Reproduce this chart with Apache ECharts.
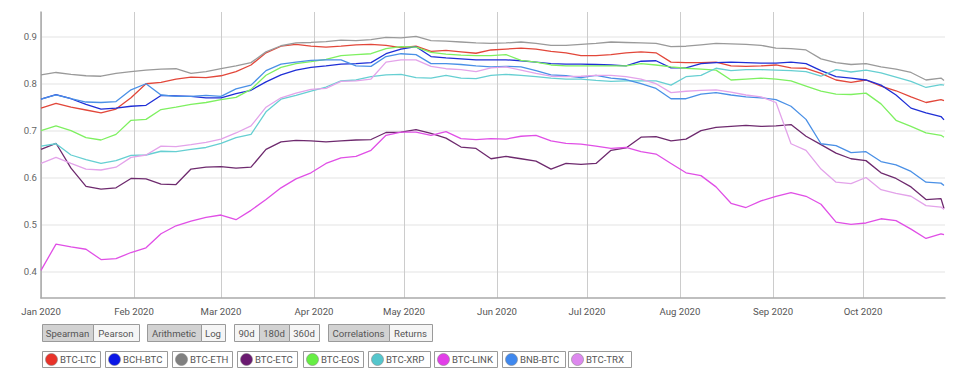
<!DOCTYPE html>
<html>
<head>
<meta charset="utf-8">
<script src="https://cdn.jsdelivr.net/npm/echarts@6/dist/echarts.min.js"></script>
<style>
html,body{margin:0;padding:0;background:#fff;}
#chart{width:975px;height:385px;}
</style>
</head>
<body>
<div id="chart"></div>
<script>
// ---- data ----
const dates = ['2020-01-01','2020-01-06','2020-01-11','2020-01-16','2020-01-21','2020-01-26','2020-01-31',
'2020-02-05','2020-02-10','2020-02-15','2020-02-20','2020-02-25','2020-03-01','2020-03-06','2020-03-11',
'2020-03-16','2020-03-21','2020-03-26','2020-03-31','2020-04-05','2020-04-10','2020-04-15','2020-04-20',
'2020-04-25','2020-04-30','2020-05-05','2020-05-10','2020-05-15','2020-05-20','2020-05-25','2020-05-30',
'2020-06-04','2020-06-09','2020-06-14','2020-06-19','2020-06-24','2020-06-29','2020-07-04','2020-07-09',
'2020-07-14','2020-07-19','2020-07-24','2020-07-29','2020-08-03','2020-08-08','2020-08-13','2020-08-18',
'2020-08-23','2020-08-28','2020-09-02','2020-09-07','2020-09-12','2020-09-17','2020-09-22','2020-09-27',
'2020-10-02','2020-10-07','2020-10-12','2020-10-17','2020-10-22','2020-10-27','2020-10-28'];

const btcLtc = [0.748,0.758,0.750,0.744,0.738,0.746,0.770,0.800,0.803,0.810,
0.814,0.813,0.817,0.826,0.840,0.866,0.880,0.884,0.880,0.878,
0.880,0.883,0.884,0.882,0.877,0.880,0.869,0.871,0.868,0.865,
0.872,0.874,0.876,0.874,0.869,0.866,0.860,0.860,0.862,0.866,
0.868,0.866,0.846,0.845,0.845,0.846,0.838,0.837,0.838,0.840,
0.834,0.833,0.822,0.808,0.803,0.808,0.795,0.785,0.772,0.760,
0.766,0.764];
const bchBtc = [0.767,0.777,0.768,0.756,0.746,0.748,0.752,0.754,0.775,0.774,
0.773,0.770,0.770,0.779,0.786,0.804,0.819,0.829,0.835,0.838,
0.842,0.843,0.845,0.864,0.874,0.879,0.858,0.855,0.853,0.851,
0.851,0.851,0.849,0.846,0.843,0.842,0.842,0.841,0.840,0.838,
0.848,0.849,0.834,0.834,0.843,0.845,0.846,0.845,0.844,0.844,
0.846,0.843,0.828,0.815,0.812,0.808,0.797,0.776,0.748,0.738,
0.730,0.723];
const btcEth = [0.819,0.824,0.820,0.817,0.816,0.822,0.826,0.829,0.831,0.832,
0.822,0.826,0.832,0.838,0.845,0.868,0.881,0.887,0.888,0.890,
0.893,0.892,0.894,0.899,0.898,0.901,0.892,0.891,0.889,0.887,
0.886,0.887,0.889,0.886,0.882,0.882,0.884,0.886,0.889,0.888,
0.887,0.886,0.879,0.880,0.883,0.886,0.885,0.884,0.882,0.876,
0.875,0.872,0.853,0.845,0.841,0.843,0.836,0.831,0.824,0.808,
0.812,0.807];
const btcEtc = [0.660,0.673,0.620,0.581,0.575,0.578,0.598,0.597,0.586,0.585,
0.618,0.622,0.623,0.620,0.622,0.660,0.676,0.679,0.678,0.676,
0.678,0.680,0.681,0.696,0.697,0.702,0.694,0.684,0.665,0.662,
0.640,0.645,0.640,0.635,0.618,0.630,0.628,0.630,0.658,0.663,
0.686,0.687,0.678,0.682,0.700,0.707,0.709,0.711,0.709,0.710,
0.713,0.688,0.670,0.652,0.640,0.636,0.610,0.598,0.580,0.553,
0.555,0.534];
const btcEos = [0.700,0.710,0.700,0.685,0.680,0.692,0.722,0.724,0.745,0.750,
0.756,0.760,0.766,0.771,0.788,0.818,0.835,0.843,0.847,0.852,
0.860,0.862,0.864,0.875,0.879,0.878,0.867,0.863,0.861,0.860,
0.860,0.862,0.850,0.846,0.840,0.838,0.838,0.838,0.838,0.838,
0.843,0.840,0.836,0.833,0.831,0.829,0.808,0.810,0.812,0.810,
0.806,0.795,0.784,0.778,0.777,0.780,0.757,0.722,0.709,0.695,
0.690,0.686];
const btcXrp = [0.667,0.672,0.648,0.638,0.630,0.636,0.647,0.648,0.656,0.655,
0.660,0.664,0.673,0.685,0.692,0.740,0.767,0.775,0.784,0.793,
0.806,0.808,0.815,0.819,0.820,0.813,0.812,0.818,0.812,0.811,
0.818,0.820,0.818,0.815,0.812,0.810,0.810,0.807,0.805,0.806,
0.806,0.806,0.797,0.815,0.818,0.833,0.828,0.830,0.830,0.829,
0.828,0.826,0.816,0.830,0.825,0.829,0.823,0.814,0.805,0.792,
0.798,0.797];
const btcLink = [0.402,0.458,0.452,0.447,0.425,0.427,0.440,0.450,0.480,0.497,
0.507,0.515,0.520,0.510,0.530,0.553,0.578,0.597,0.610,0.630,
0.642,0.645,0.658,0.690,0.697,0.697,0.690,0.698,0.683,0.681,
0.683,0.682,0.688,0.690,0.678,0.673,0.671,0.667,0.662,0.664,
0.655,0.650,0.630,0.610,0.604,0.580,0.545,0.536,0.550,0.560,
0.568,0.560,0.543,0.505,0.500,0.503,0.512,0.508,0.490,0.470,
0.480,0.478];
const bnbBtc = [0.767,0.776,0.768,0.761,0.760,0.762,0.787,0.800,0.776,0.773,
0.773,0.775,0.773,0.789,0.797,0.828,0.842,0.846,0.850,0.851,
0.851,0.838,0.837,0.858,0.864,0.862,0.843,0.843,0.841,0.838,
0.836,0.837,0.836,0.828,0.819,0.817,0.813,0.818,0.812,0.809,
0.800,0.790,0.768,0.768,0.778,0.781,0.776,0.772,0.770,0.766,
0.752,0.724,0.672,0.668,0.653,0.655,0.634,0.627,0.613,0.590,
0.588,0.583];
const btcTrx = [0.630,0.643,0.630,0.618,0.616,0.622,0.643,0.648,0.667,0.666,
0.670,0.675,0.682,0.695,0.710,0.750,0.770,0.780,0.788,0.790,
0.805,0.806,0.810,0.846,0.851,0.851,0.837,0.832,0.830,0.826,
0.834,0.836,0.829,0.822,0.816,0.815,0.816,0.818,0.818,0.815,
0.810,0.800,0.781,0.784,0.786,0.787,0.782,0.776,0.772,0.760,
0.672,0.658,0.618,0.590,0.587,0.600,0.574,0.566,0.560,0.540,
0.537,0.532];

const seriesNames = ['BTC-LTC','BCH-BTC','BTC-ETH','BTC-ETC','BTC-EOS','BTC-XRP','BTC-LINK','BNB-BTC','BTC-TRX'];
const seriesValues = [btcLtc,bchBtc,btcEth,btcEtc,btcEos,btcXrp,btcLink,bnbBtc,btcTrx];
const monthTicks = ['2020-01-01','2020-02-01','2020-03-01','2020-04-01','2020-05-01','2020-06-01',
'2020-07-01','2020-08-01','2020-09-01','2020-10-01'];
const monthNames = ['Jan','Feb','Mar','Apr','May','Jun','Jul','Aug','Sep','Oct','Nov','Dec'];
const yTicks = [0.4,0.5,0.6,0.7,0.8,0.9];
const buttonGroups = [
  [['Spearman',true],['Pearson',false]],
  [['Arithmetic',true],['Log',false]],
  [['90d',false],['180d',true],['360d',false]],
  [['Correlations',true],['Returns',false]]
];

// ---- styles ----
const lineColors = ['#e2473a','#1f2fd6','#9a9a9a','#6e2a6e','#7ef060','#66cfd2','#e04fe6','#4a90e6','#e3a3ea'];
const dotColors  = ['#e8332a','#0a16e6','#808080','#6a1a70','#66ee44','#55c6cc','#e23ee8','#3f88ee','#dd88ee'];
const FONT = 'Roboto';
const TXT = 9.6;

const ts = (s)=>Date.parse(s.length>10 ? s : s+'T00:00:00Z');
const dateTs = dates.map(ts);
const monthTs = monthTicks.map(ts);

const chart = echarts.init(document.getElementById('chart'), null, {renderer:'svg'});

const series = seriesNames.map((n,i)=>({
  name:n, type:'line', showSymbol:false, symbol:'none',
  data: dateTs.map((d,j)=>[d, seriesValues[i][j]]),
  lineStyle:{width:1.3, color:lineColors[i]},
  itemStyle:{color:lineColors[i]},
  emphasis:{disabled:true},
  z: 3
}));

// graphic: button rows
const graphics = [];
const btnX = [[42,93,139],[147,201,225],[234,259,289,319],[328,389,432]];
buttonGroups.forEach((g,gi)=>{
  g.forEach((b,bi)=>{
    const x0 = btnX[gi][bi], x1 = btnX[gi][bi+1];
    graphics.push({type:'rect', shape:{x:x0+0.5,y:324.5,width:x1-x0,height:17},
      style:{fill:b[1]?'#d2d2d2':'#f5f5f5', stroke:'#9a9a9a', lineWidth:1}, silent:true});
    graphics.push({type:'text', x:(x0+x1)/2, y:333.5,
      style:{text:b[0], fontSize:TXT, fontFamily:FONT, fill:'#555', align:'center', verticalAlign:'middle'}, silent:true});
  });
});
const legX = [[42,100],[105,167],[172,232],[237,297],[303,363],[368,430],[434,497],[502,565],[568,631]];
seriesNames.forEach((n,i)=>{
  const [x0,x1] = legX[i];
  graphics.push({type:'rect', shape:{x:x0+0.5,y:351.5,width:x1-x0,height:16},
    style:{fill:'#fff', stroke:'#9a9a9a', lineWidth:1}, silent:true});
  graphics.push({type:'circle', shape:{cx:x0+9.5,cy:359.5,r:6},
    style:{fill:dotColors[i], stroke:'#888', lineWidth:0.6}, silent:true});
  graphics.push({type:'text', x:x0+18, y:359.5,
    style:{text:n, fontSize:TXT, fontFamily:FONT, fill:'#555', align:'left', verticalAlign:'middle'}, silent:true});
});

chart.setOption({
  animation:false,
  backgroundColor:'#fff',
  textStyle:{fontFamily:FONT},
  grid:{left:41, right:30, top:12, bottom:87, containLabel:false},
  xAxis:{
    type:'value',
    min: ts('2020-01-01'), max: ts('2020-10-28T08:00:00Z'),
    axisLine:{show:true, onZero:false, lineStyle:{color:'#aaaaaa', width:1.5}},
    axisTick:{show:false, customValues: monthTs},
    axisLabel:{customValues: monthTs, color:'#555', fontSize:TXT, fontFamily:FONT, margin:8,
      formatter:(v)=>{const d=new Date(v); return monthNames[d.getUTCMonth()]+' '+d.getUTCFullYear();}},
    splitLine:{show:true, lineStyle:{color:'#cccccc', width:1}}
  },
  yAxis:{
    type:'value', min:0.343, max:0.953,
    axisLine:{show:true, onZero:false, lineStyle:{color:'#aaaaaa', width:1.5}},
    axisTick:{show:false, customValues: yTicks},
    axisLabel:{customValues: yTicks, color:'#666', fontSize:TXT, fontFamily:FONT, margin:4,
      formatter:(v)=>v.toFixed(1)},
    splitLine:{show:true, lineStyle:{color:'#ececec', width:1.5}}
  },
  series: series,
  graphic: graphics
});
</script>
</body>
</html>
